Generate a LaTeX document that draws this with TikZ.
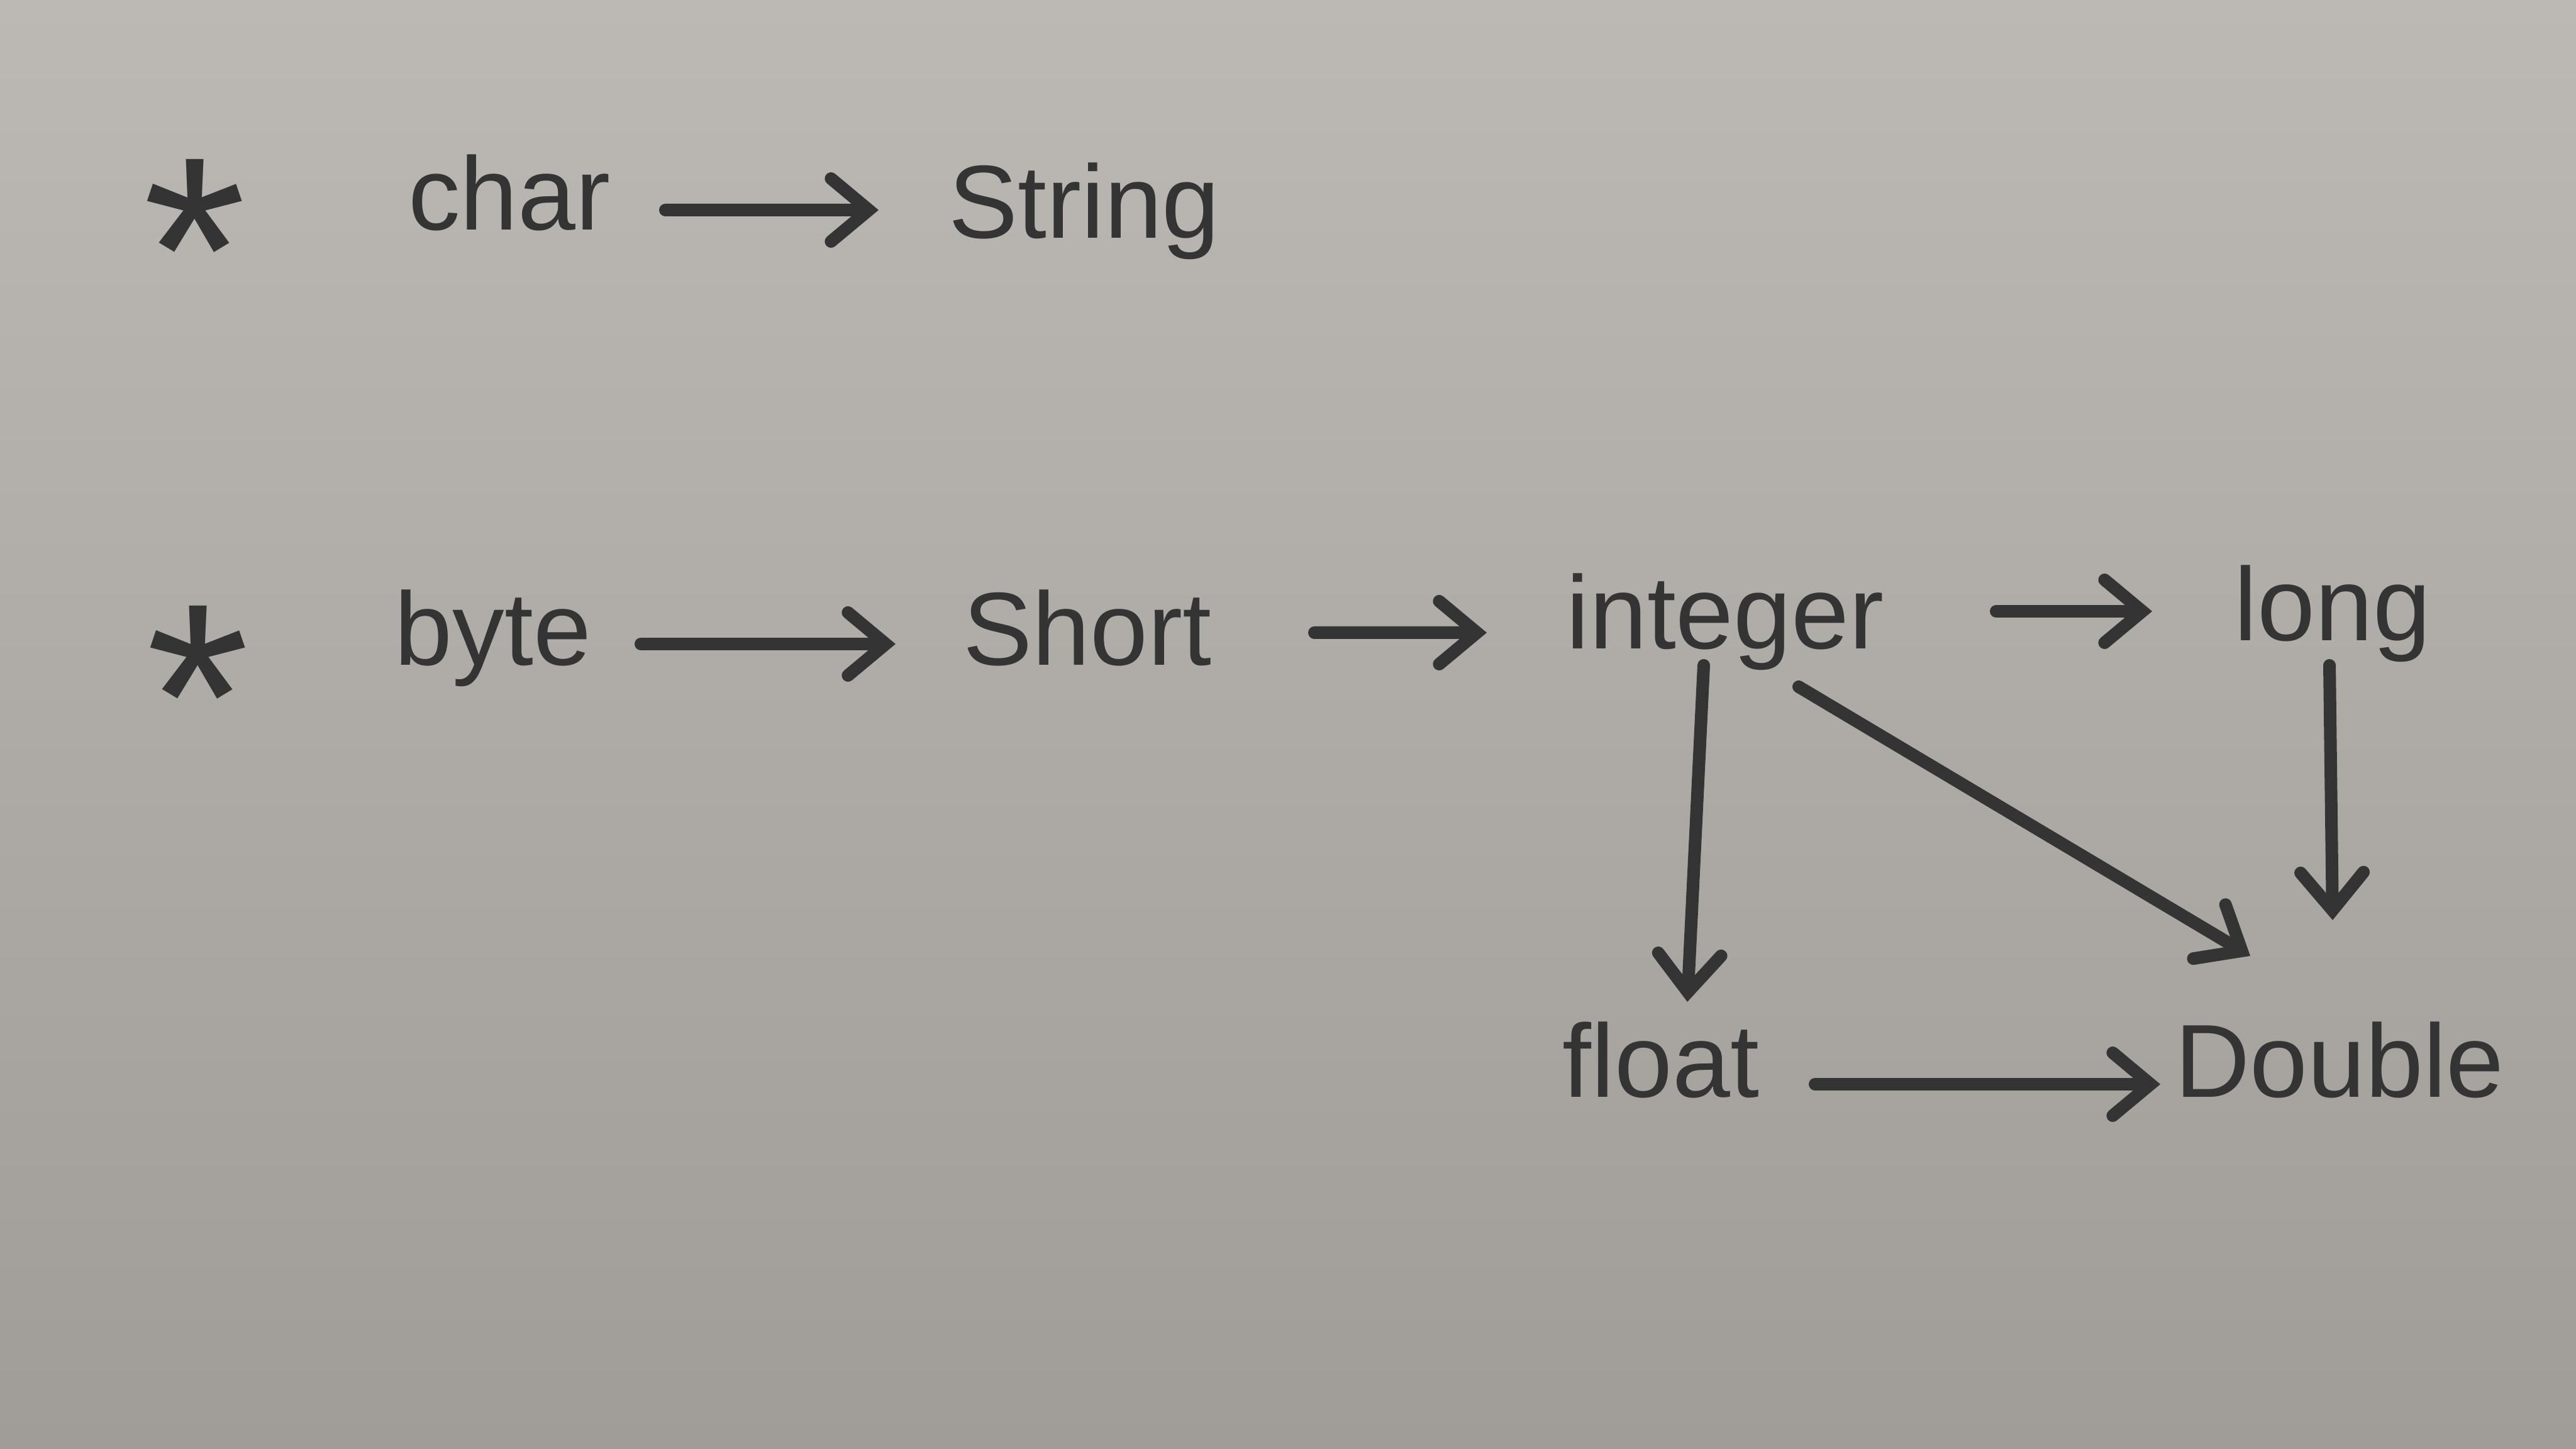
\documentclass[tikz,border=0pt]{standalone}
\usepackage{fontspec}
\setmainfont{Liberation Sans}
\usetikzlibrary{arrows.meta,calc}
\definecolor{paperTop}{RGB}{188,185,180}
\definecolor{paperMid}{RGB}{176,173,168}
\definecolor{paperBot}{RGB}{160,157,152}
\definecolor{ink}{RGB}{52,52,52}
\begin{document}
\begin{tikzpicture}[
  word/.style={inner sep=0pt, anchor=base, text=ink, font=\fontsize{47}{56}\selectfont},
  starmark/.style={inner sep=0pt, anchor=base, text=ink, font=\fontsize{120}{120}\selectfont},
  arr/.style={draw=ink, line width=0.2cm, line cap=round, line join=round,
    -{Straight Barb[length=0.6cm, width=1.0cm, line cap=round]}}
]
\useasboundingbox (0,0) rectangle (40.96,23.04);
\shade[top color=paperTop, middle color=paperMid, bottom color=paperBot] (0,0) rectangle (40.96,23.04);

% bullets
\node[starmark] (star1) at (3.1,17.6) {*};
\node[starmark] (star2) at (3.15,10.5) {*};

% words
\node[word] (char) at (8.1,19.38) {char};
\node[word] (String) at (17.24,19.25) {String};
\node[word] (byte) at (7.84,12.46) {byte};
\node[word] (Short) at (17.29,12.46) {Short};
\node[word] (integer) at (27.43,12.72) {integer};
\node[word] (long) at (37.09,12.85) {long};
\node[word] (float) at (26.41,5.59) {float};
\node[word] (Double) at (37.2,5.59) {Double};

% connectors
\draw[arr] ($(char.base)+(2.48,0.32)$) -- ($(String.base)+(-3.27,0.45)$);
\draw[arr] ($(byte.base)+(2.35,0.34)$) -- ($(Short.base)+(-3.05,0.34)$);
\draw[arr] ($(Short.base)+(3.61,0.52)$) -- ($(integer.base)+(-3.79,0.26)$);
\draw[arr] ($(integer.base)+(4.31,0.60)$) -- ($(long.base)+(-2.87,0.47)$);
\draw[arr] ($(integer.base)+(-0.34,-0.26)$) -- ($(float.base)+(0.42,1.52)$);
\draw[arr] ($(integer.base)+(1.17,-0.60)$) -- ($(Double.base)+(-1.42,2.25)$);
\draw[arr] ($(long.base)+(-0.05,-0.39)$) -- ($(Double.base)+(-0.11,2.82)$);
\draw[arr] ($(float.base)+(2.45,0.21)$) -- ($(Double.base)+(-2.85,0.21)$);
\end{tikzpicture}
\end{document}
